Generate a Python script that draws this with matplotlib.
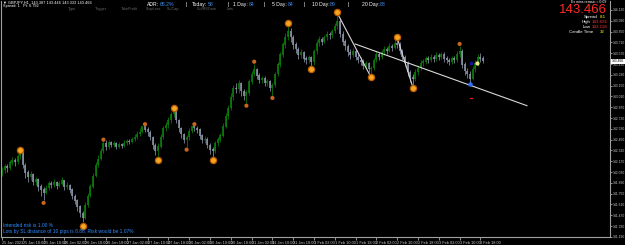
import matplotlib
matplotlib.use("Agg")
import matplotlib.pyplot as plt

plt.rcParams['font.family'] = ['Liberation Sans', 'DejaVu Sans']

# hourly GBPJPY candles (open = previous close)
first_open = 142.00
closes = [
    142.05, 142.10, 142.08, 142.15, 142.18, 142.16, 142.24, 142.28, 142.12, 142.02,
    141.97, 142.00, 141.90, 141.93, 141.84, 141.80, 141.76, 141.82, 141.88, 141.86,
    141.90, 141.85, 141.88, 141.92, 141.84, 141.86, 141.80, 141.72, 141.66, 141.58,
    141.50, 141.44, 141.60, 141.72, 141.84, 141.98, 142.12, 142.20, 142.30, 142.40,
    142.36, 142.41, 142.38, 142.40, 142.36, 142.39, 142.37, 142.40, 142.43, 142.42,
    142.46, 142.48, 142.52, 142.55, 142.62, 142.58, 142.55, 142.48, 142.38, 142.30,
    142.36, 142.48, 142.60, 142.64, 142.70, 142.78, 142.82, 142.70, 142.60, 142.52,
    142.45, 142.48, 142.56, 142.62, 142.60, 142.58, 142.50, 142.44, 142.46, 142.38,
    142.32, 142.30, 142.40, 142.45, 142.50, 142.62, 142.75, 142.86, 143.00, 143.12,
    143.10, 143.18, 143.08, 143.02, 143.06, 143.20, 143.30, 143.36, 143.28, 143.22,
    143.24, 143.18, 143.20, 143.12, 143.16, 143.30, 143.42, 143.55, 143.68, 143.78,
    143.85, 143.78, 143.68, 143.62, 143.55, 143.58, 143.50, 143.48, 143.52, 143.45,
    143.60, 143.70, 143.75, 143.72, 143.78, 143.82, 143.80, 143.86, 143.92, 143.98,
    143.82, 143.72, 143.66, 143.58, 143.55, 143.60, 143.52, 143.48, 143.46, 143.40,
    143.44, 143.36, 143.38, 143.48, 143.56, 143.52, 143.58, 143.62, 143.60, 143.66,
    143.64, 143.70, 143.68, 143.60, 143.52, 143.44, 143.32, 143.26, 143.24, 143.32,
    143.38, 143.44, 143.46, 143.50, 143.48, 143.52, 143.50, 143.54, 143.52, 143.55,
    143.50, 143.48, 143.46, 143.50, 143.48, 143.56, 143.60, 143.42, 143.34, 143.30,
    143.24, 143.36, 143.44, 143.52, 143.50, 143.466,
]
highs = [
    142.10, 142.14, 142.13, 142.19, 142.22, 142.21, 142.27, 142.31, 142.29, 142.15,
    142.05, 142.04, 142.02, 141.97, 141.95, 141.88, 141.83, 141.86, 141.92, 141.91,
    141.94, 141.92, 141.91, 141.96, 141.93, 141.90, 141.88, 141.82, 141.75, 141.68,
    141.60, 141.52, 141.64, 141.76, 141.87, 142.02, 142.16, 142.25, 142.34, 142.43,
    142.44, 142.44, 142.43, 142.43, 142.42, 142.42, 142.41, 142.44, 142.46, 142.46,
    142.49, 142.52, 142.56, 142.60, 142.63, 142.62, 142.62, 142.58, 142.50, 142.40,
    142.40, 142.52, 142.63, 142.68, 142.74, 142.81, 142.84, 142.84, 142.72, 142.62,
    142.54, 142.51, 142.60, 142.62, 142.63, 142.63, 142.60, 142.52, 142.50, 142.48,
    142.40, 142.36, 142.43, 142.49, 142.54, 142.66, 142.79, 142.90, 143.05, 143.16,
    143.18, 143.22, 143.20, 143.11, 143.09, 143.24, 143.34, 143.43, 143.38, 143.31,
    143.28, 143.27, 143.24, 143.22, 143.19, 143.33, 143.46, 143.59, 143.72, 143.83,
    143.92, 143.90, 143.80, 143.71, 143.65, 143.62, 143.60, 143.54, 143.55, 143.54,
    143.63, 143.74, 143.79, 143.78, 143.81, 143.86, 143.85, 143.89, 143.96, 144.06,
    144.02, 143.86, 143.76, 143.69, 143.62, 143.64, 143.62, 143.56, 143.52, 143.49,
    143.47, 143.46, 143.41, 143.51, 143.60, 143.59, 143.61, 143.66, 143.65, 143.70,
    143.69, 143.74, 143.75, 143.71, 143.63, 143.55, 143.47, 143.35, 143.30, 143.36,
    143.42, 143.48, 143.50, 143.54, 143.53, 143.56, 143.55, 143.58, 143.57, 143.59,
    143.58, 143.53, 143.51, 143.54, 143.53, 143.60, 143.66, 143.62, 143.45, 143.38,
    143.34, 143.40, 143.48, 143.56, 143.57, 143.53,
]
lows = [
    141.98, 142.02, 142.03, 142.06, 142.12, 142.11, 142.14, 142.20, 142.08, 141.95,
    141.90, 141.93, 141.86, 141.86, 141.78, 141.72, 141.67, 141.74, 141.80, 141.82,
    141.84, 141.81, 141.83, 141.86, 141.80, 141.81, 141.76, 141.68, 141.62, 141.52,
    141.45, 141.38, 141.42, 141.58, 141.70, 141.82, 141.96, 142.10, 142.18, 142.28,
    142.32, 142.33, 142.35, 142.35, 142.33, 142.34, 142.34, 142.35, 142.38, 142.39,
    142.40, 142.43, 142.46, 142.50, 142.53, 142.55, 142.50, 142.44, 142.33, 142.25,
    142.23, 142.34, 142.46, 142.56, 142.60, 142.66, 142.74, 142.66, 142.55, 142.47,
    142.40, 142.36, 142.45, 142.53, 142.56, 142.54, 142.46, 142.40, 142.40, 142.34,
    142.27, 142.23, 142.28, 142.37, 142.42, 142.48, 142.60, 142.72, 142.84, 142.97,
    143.05, 143.06, 143.02, 142.96, 142.92, 143.03, 143.17, 143.27, 143.24, 143.18,
    143.18, 143.14, 143.14, 143.08, 143.02, 143.13, 143.27, 143.39, 143.52, 143.64,
    143.74, 143.72, 143.63, 143.57, 143.50, 143.51, 143.46, 143.43, 143.44, 143.39,
    143.42, 143.56, 143.66, 143.68, 143.70, 143.74, 143.76, 143.77, 143.83, 143.88,
    143.78, 143.67, 143.61, 143.54, 143.50, 143.52, 143.48, 143.44, 143.42, 143.36,
    143.37, 143.32, 143.29, 143.35, 143.45, 143.48, 143.50, 143.55, 143.56, 143.58,
    143.60, 143.62, 143.64, 143.56, 143.48, 143.40, 143.28, 143.20, 143.15, 143.21,
    143.29, 143.35, 143.41, 143.43, 143.44, 143.45, 143.46, 143.47, 143.48, 143.49,
    143.46, 143.44, 143.42, 143.43, 143.44, 143.46, 143.52, 143.38, 143.29, 143.25,
    143.19, 143.22, 143.33, 143.40, 143.46, 143.44,
]

# zigzag pivots (bar index, price)
big_idx = [7, 31, 60, 66, 81, 110, 119, 129, 142, 152, 158]
big_px = [142.32, 141.33, 142.19, 142.86, 142.19, 143.96, 143.37, 144.10, 143.26, 143.78, 143.12]
small_idx = [16, 39, 55, 71, 74, 94, 97, 104, 176]
small_px = [141.63, 142.45, 142.65, 142.32, 142.65, 142.89, 143.46, 142.99, 143.69]

# hand-drawn lines
line_a = ([128.8, 141.9], [144.10, 143.26])
line_c = ([151.9, 158.1], [143.78, 143.12])
trend = ([135.8, 201.9], [143.69, 142.89])

y_ticks = [144.13, 143.99, 143.85, 143.71, 143.57, 143.43, 143.29, 143.15, 143.01, 142.87, 142.73,
           142.59, 142.45, 142.31, 142.17, 142.03, 141.89, 141.75, 141.61, 141.47, 141.33, 141.19]
x_tick_bars = list(range(0, 185, 8))
x_tick_labels = ["25 Jan 2023", "25 Jan 10:00", "25 Jan 18:00", "26 Jan 02:00", "26 Jan 10:00",
                 "26 Jan 18:00", "27 Jan 02:00", "27 Jan 10:00", "27 Jan 18:00", "30 Jan 02:00",
                 "30 Jan 10:00", "30 Jan 18:00", "31 Jan 02:00", "31 Jan 10:00", "31 Jan 18:00",
                 "1 Feb 02:00", "1 Feb 10:00", "1 Feb 18:00", "2 Feb 02:00", "2 Feb 10:00",
                 "2 Feb 18:00", "3 Feb 02:00", "3 Feb 10:00", "3 Feb 18:00"]
last_price = 143.466

W, H = 625, 245
fig = plt.figure(figsize=(W / 100, H / 100), dpi=100, facecolor="black")
ax = fig.add_axes([1 / W, 1 - 237 / H, 609 / W, 236 / H], facecolor="black")

opens = [first_open] + closes[:-1]
for i in range(len(closes)):
    o, c = opens[i], closes[i]
    hi = max(highs[i], o, c)
    lo = min(lows[i], o, c)
    col = "#0a7d0a" if c >= o else "#8a93a6"
    ax.vlines(i, lo, hi, color=col, lw=0.55)
    ax.vlines(i, min(o, c), max(o, c) + 0.004, color=col, lw=1.2)

for xs, ys in (line_a, line_c, trend):
    ax.plot(xs, ys, color="#d8d8d8", lw=0.8)

ax.scatter(big_idx, big_px, s=20, c="#f5a623", edgecolors="#b85c00", linewidths=0.9, zorder=5)
ax.scatter(small_idx, small_px, s=9, c="#c8641e", edgecolors="none", zorder=5)
ax.scatter([180], [143.17], s=5, c="#3070ff", zorder=5)
ax.scatter([180.3], [143.44], s=3, c="#1010a0", zorder=5)
ax.scatter([182.7], [143.44], s=4, c="#f0e68c", zorder=5)
ax.plot([180.0, 180.8], [142.99, 142.99], color="#e02020", lw=0.9)

ax.set_xlim(-0.385, 233.85)
ax.set_ylim(141.188, 144.2466)
ax.yaxis.tick_right()
ax.set_yticks(y_ticks)
ax.set_yticklabels([f"{v:.3f}" for v in y_ticks])
ax.set_xticks(x_tick_bars)
ax.set_xticklabels(x_tick_labels, ha="left")
ax.tick_params(axis="y", colors="#c8c8c8", labelsize=2.45, length=1.2, width=0.5, pad=0.4)
ax.tick_params(axis="x", colors="#c8c8c8", labelsize=2.8, length=2, width=0.5, pad=0.8)
for side in ("left", "right", "bottom"):
    ax.spines[side].set_color("#a0a0a0")
    ax.spines[side].set_linewidth(0.8)
ax.spines["top"].set_visible(False)

# current price tag on the price scale
ax.text(1.003, last_price, f"{last_price:.3f}", transform=ax.get_yaxis_transform(),
        fontsize=2.45, color="black", va="center", ha="left",
        bbox=dict(boxstyle="square,pad=0.15", fc="white", ec="none"))


def t(x, y, s, color="white", size=4, ha="left", **kw):
    fig.text(x / W, 1 - y / H, s, color=color, fontsize=size, ha=ha, va="center", **kw)


# header lines
t(3, 2.5, "▼ GBPJPY,H1  143.387 143.446 143.333 143.466", size=2.8)
t(3, 6.5, "Spread: 1   Pt: 0.792", size=2.8)
for x, s in [(68, "Type"), (95, "Trigger"), (121, "TakeProfit"), (146, "StopLoss"),
             (167, "SL/Cap"), (197, "SL/RR/Gain"), (227, "Lots")]:
    t(x, 8.6, s, color="#6a6a6a", size=2.7)

blue = "#3d8ef0"
for x, s, col in [(147, "ADR:", "white"), (160, "65.2%", blue), (185, "|", "white"),
                  (192, "Today:", "white"), (208, "58", blue), (227, "|", "white"),
                  (233, "1 Day:", "white"), (248.5, "84", blue), (264, "|", "white"),
                  (272, "5 Day:", "white"), (287.5, "84", blue), (304, "|", "white"),
                  (312, "10 Day:", "white"), (330, "89", blue), (347, "|", "white"),
                  (362, "20 Day:", "white"), (380, "88", blue)]:
    t(x, 4.8, s, color=col, size=3.7)

# info block top right
t(606, 1.6, "Ex mins remain = 0:09", size=2.5, ha="right")
t(607, 10.0, "143.466", color="#ff2a2a", size=9.5, ha="right")
t(598, 17.4, "Spread", size=3.2, ha="right")
t(600, 17.4, "8.1", color="#ffff00", size=3.2)
t(591, 22.3, "High", size=3.2, ha="right")
t(592, 22.3, "143.691", color="#ff3030", size=3.2)
t(591, 27, "Low", size=3.2, ha="right")
t(592, 27, "143.118", color="#ff3030", size=3.2)
t(593, 32, "Candle Time", size=3.2, ha="right")
t(600, 32, "32", color="#ffff00", size=3.2)

# risk info bottom left
t(3, 225, "Intended risk is 1.00 %", color="#2f8cff", size=3.5)
t(3, 231.5, "Lots by SL distance of 10 pips is 8.88. Risk would be 1.07%", color="#2f8cff", size=3.5)

fig.savefig("out.png", dpi=100, facecolor="black")
